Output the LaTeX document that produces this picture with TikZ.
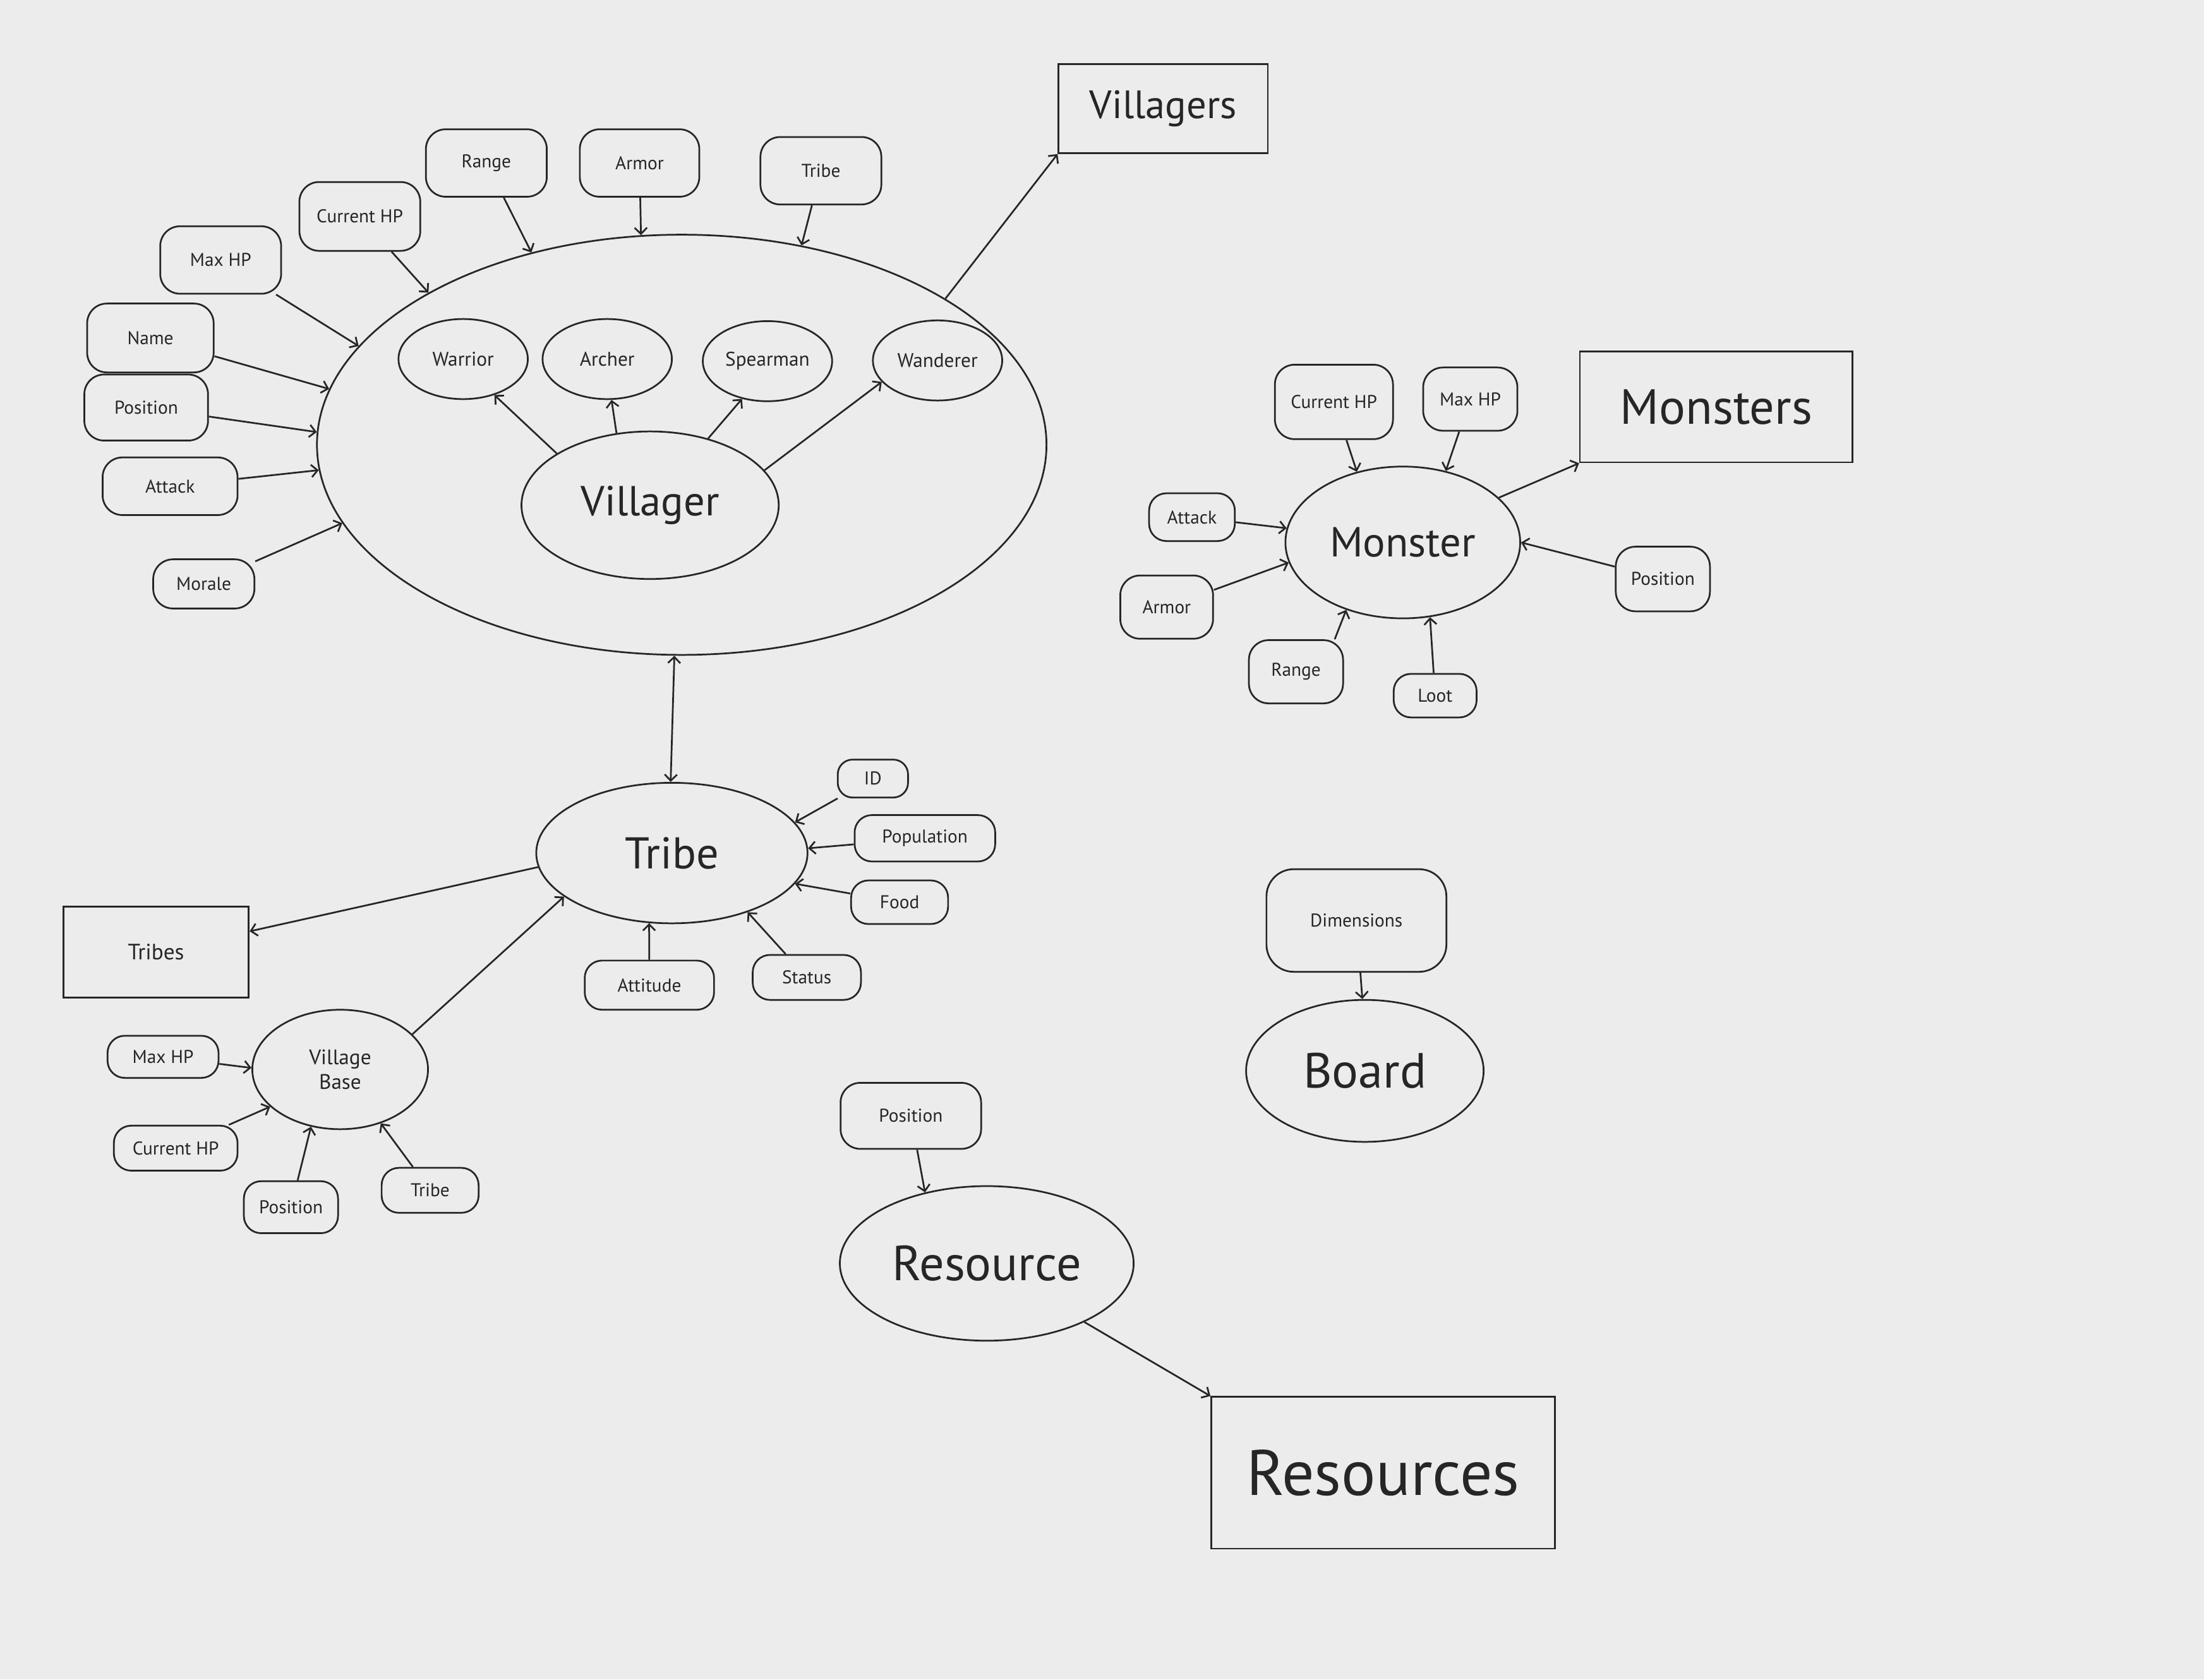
\documentclass[tikz,border=0pt]{standalone}
\usepackage{fontspec}
\setmainfont{PT Sans}
\usetikzlibrary{arrows.meta, shapes.geometric}
\usepackage{xcolor}
\definecolor{bggray}{RGB}{236,236,236}
\definecolor{inkgray}{RGB}{38,38,38}

\begin{document}
\begin{tikzpicture}[
      x=0.02cm, y=-0.02cm,
      sz/.style 2 args={minimum width=#1*0.02cm, minimum height=#2*0.02cm},
      attr/.style={rectangle, rounded corners=8pt, draw=inkgray, line width=0.7pt,
                  inner sep=0pt, align=center, text=inkgray,
                  font=\fontsize{7.5}{9}\selectfont},
      kind/.style={ellipse, draw=inkgray, line width=0.7pt, inner sep=0pt,
                  align=center, text=inkgray},
      sub/.style={kind, sz={92}{57}, font=\fontsize{8}{10}\selectfont},
      coll/.style={rectangle, draw=inkgray, line width=0.7pt, inner sep=0pt,
                  align=center, text=inkgray},
      arr/.style={-{Straight Barb[length=2.5pt, width=5pt]}, line width=0.7pt, draw=inkgray},
      arrboth/.style={{Straight Barb[length=2.5pt, width=5pt]}-{Straight Barb[length=2.5pt, width=5pt]},
                  line width=0.7pt, draw=inkgray}
    ]
    \fill[bggray] (0,0) rectangle (1568,1195);
    \useasboundingbox (0,0) rectangle (1568,1195);

    % villager side
    \node[kind, sz={519}{299}] (group) at (485,316.5) {};
    \node[kind, sz={183}{105}, font=\fontsize{17}{20}\selectfont] (villager) at (462.5,359.5) {Villager};
    \node[sub] (warrior) at (329.5,255.5) {Warrior};
    \node[sub] (archer) at (432,255.5) {Archer};
    \node[sub] (spearman) at (546,257) {Spearman};
    \node[sub] (wanderer) at (667,256.5) {Wanderer};

    \node[attr, sz={86}{48}] (vrange) at (346,116) {Range};
    \node[attr, sz={85}{48}] (varmor) at (455,116) {Armor};
    \node[attr, sz={86}{48}] (vtribe) at (584,121.5) {Tribe};
    \node[attr, sz={86}{49}] (vcurhp) at (256,154) {Current HP};
    \node[attr, sz={86}{48}] (vmaxhp) at (157,185) {Max HP};
    \node[attr, sz={90}{49}] (vname) at (107,240.5) {Name};
    \node[attr, sz={88}{47}] (vpos) at (104,290) {Position};
    \node[attr, sz={96}{41}] (vattack) at (121,346) {Attack};
    \node[attr, sz={72}{35}] (vmorale) at (145,415.5) {Morale};

    \node[coll, sz={149}{63.5}, font=\fontsize{16}{19}\selectfont] (villagers) at (827.5,77.25) {Villagers};

    \draw[arr] (vrange) -- (group.128);
    \draw[arr] (varmor) -- (group.101);
    \draw[arr] (vtribe) -- (group.59);
    \draw[arr] (vcurhp) -- (group.149.5);
    \draw[arr] (vmaxhp) -- (group.163);
    \draw[arr] (vname) -- (group.171);
    \draw[arr] (vpos) -- (group.178);
    \draw[arr] (vattack) -- (group.184.5);
    \draw[arr] (vmorale) -- (group.193.5);
    \draw[arr] (villager.151) -- (warrior.-49);
    \draw[arr] (villager.115) -- (archer.-84);
    \draw[arr] (villager.49) -- (spearman.-124);
    \draw[arr] (villager.17) -- (wanderer.201);
    \draw[arr] (group.29.6) -- (villagers.south west);

    % tribe side
    \node[kind, sz={193}{100}, font=\fontsize{18}{21}\selectfont] (tribe) at (478,607) {Tribe};
    \node[attr, sz={50}{27}, rounded corners=6pt] (tid) at (621,554) {ID};
    \node[attr, sz={100}{33}, rounded corners=7pt] (tpop) at (658,596.5) {Population};
    \node[attr, sz={69}{31}, rounded corners=7pt] (tfood) at (640,642) {Food};
    \node[attr, sz={77}{32}, rounded corners=7pt] (tstatus) at (574,695.5) {Status};
    \node[attr, sz={92}{35}, rounded corners=7pt] (tattitude) at (462,701) {Attitude};
    \node[coll, sz={132}{65}, font=\fontsize{9}{11}\selectfont] (tribes) at (111,677.5) {Tribes};

    \node[kind, sz={125}{85}, font=\fontsize{8.5}{10}\selectfont] (vbase) at (242,761) {Village\\Base};
    \node[attr, sz={79}{30}, rounded corners=7pt] (bmaxhp) at (116,752) {Max HP};
    \node[attr, sz={88}{32}, rounded corners=7pt] (bcurhp) at (125,817) {Current HP};
    \node[attr, sz={67}{37}, rounded corners=7pt] (bpos) at (207,859) {Position};
    \node[attr, sz={69}{32}, rounded corners=7pt] (btribe) at (306,847) {Tribe};

    \draw[arrboth] (group.268) -- (tribe.91);
    \draw[arr] (tid) -- (tribe.14.6);
    \draw[arr] (tpop) -- (tribe.2);
    \draw[arr] (tfood) -- (tribe.-14);
    \draw[arr] (tstatus) -- (tribe.-38);
    \draw[arr] (tattitude) -- (tribe.-108);
    \draw[arr] (tribe.186.5) -- (tribes);
    \draw[arr] (vbase.26) -- (tribe.202);
    \draw[arr] (bmaxhp) -- (vbase.179);
    \draw[arr] (bcurhp) -- (vbase.208);
    \draw[arr] (bpos) -- (vbase.243);
    \draw[arr] (btribe) -- (vbase.-53);

    % monster side
    \node[kind, sz={167}{108}, font=\fontsize{17}{20}\selectfont] (monster) at (998,386) {Monster};
    \node[attr, sz={84}{53}] (mcurhp) at (949,286) {Current HP};
    \node[attr, sz={67}{45}] (mmaxhp) at (1046,284) {Max HP};
    \node[attr, sz={61}{34}, rounded corners=7pt] (mattack) at (848,368) {Attack};
    \node[attr, sz={66}{45}] (marmor) at (830,432) {Armor};
    \node[attr, sz={67}{45}] (mrange) at (922,478) {Range};
    \node[attr, sz={59}{31}, rounded corners=7pt] (mloot) at (1021,495) {Loot};
    \node[attr, sz={67}{46}] (mpos) at (1183,412) {Position};
    \node[coll, sz={194}{79}, font=\fontsize{20}{24}\selectfont] (monsters) at (1221,289.5) {Monsters};

    \draw[arr] (mcurhp) -- (monster.123);
    \draw[arr] (mmaxhp) -- (monster.59);
    \draw[arr] (mattack) -- (monster.173);
    \draw[arr] (marmor) -- (monster.190.5);
    \draw[arr] (mrange.40) -- (monster.230);
    \draw[arr] (mloot) -- (monster.-70);
    \draw[arr] (mpos) -- (monster.0);
    \draw[arr] (monster.25) -- (monsters.south west);

    % board and resource
    \node[kind, sz={169}{101}, font=\fontsize{20}{24}\selectfont] (board) at (971,762) {Board};
    \node[attr, sz={128}{73}, rounded corners=11pt] (dims) at (965,655) {Dimensions};
    \node[kind, sz={209}{110}, font=\fontsize{20}{24}\selectfont] (resource) at (702,899) {Resource};
    \node[attr, sz={100}{47}] (rpos) at (648,794) {Position};
    \node[coll, sz={244.5}{108}, font=\fontsize{26}{30}\selectfont] (resources) at (984,1048) {Resources};

    \draw[arr] (dims) -- (board.92);
    \draw[arr] (rpos) -- (resource.131);
    \draw[arr] (resource.-31) -- (resources.north west);
  \end{tikzpicture}
\end{document}
